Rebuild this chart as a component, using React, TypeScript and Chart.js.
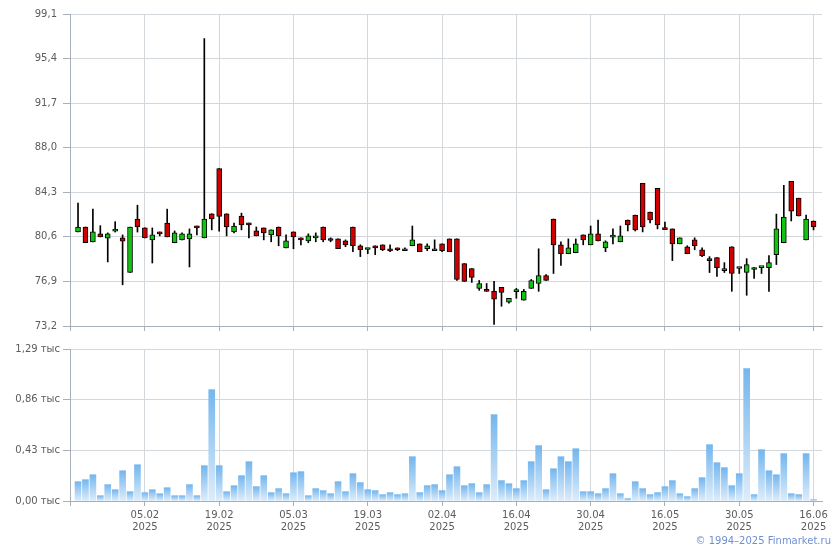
import React, { useEffect, useRef } from 'react';
import { Chart, registerables } from 'chart.js';

Chart.register(...registerables);

// ---- data (one entry per trading session) ----
const opens = [
  81.0, 81.42, 80.19, 80.85, 80.49, 81.08, 80.52, 77.64, 82.08, 81.34,
  80.35, 81.01, 81.75, 80.11, 80.35, 80.43, 81.5, 80.52, 82.52, 86.27,
  82.52, 81.01, 82.33, 81.75, 81.09, 81.34, 80.76, 81.42, 79.69, 81.01,
  80.52, 80.27, 80.52, 81.42, 80.41, 80.43, 80.27, 81.42, 79.86, 79.55,
  79.86, 79.94, 79.47, 79.69, 79.45, 79.86, 80.02, 79.61, 79.45, 80.02,
  80.43, 80.43, 78.38, 77.97, 76.32, 76.16, 76.08, 76.4, 75.17, 76.06,
  75.34, 76.32, 76.73, 77.39, 82.08, 79.94, 79.2, 79.28, 80.76, 79.94,
  80.85, 79.69, 80.58, 80.19, 82.0, 82.41, 85.04, 82.66, 84.63, 81.25,
  81.26, 80.02, 79.78, 80.35, 79.53, 78.7, 78.87, 77.8, 79.78, 77.97,
  77.64, 77.89, 78.05, 78.05, 79.12, 80.11, 85.2, 83.81, 80.35, 81.92,
];
const highs = [
  83.4, 81.42, 82.9, 81.53, 80.93, 81.86, 80.76, 81.42, 83.23, 81.34,
  81.34, 81.01, 82.9, 81.09, 80.93, 81.26, 81.5, 97.06, 82.52, 86.27,
  82.52, 81.75, 82.57, 81.75, 81.42, 81.34, 81.18, 81.42, 80.76, 81.01,
  80.52, 80.85, 80.93, 81.42, 80.52, 80.43, 80.35, 81.42, 79.94, 79.61,
  79.86, 79.94, 79.94, 79.69, 79.69, 81.5, 80.02, 80.02, 80.35, 80.02,
  80.43, 80.43, 78.38, 77.97, 76.98, 76.73, 76.9, 76.4, 75.5, 76.32,
  76.24, 77.06, 79.61, 77.47, 82.08, 80.19, 80.43, 80.43, 80.76, 81.5,
  82.0, 80.27, 81.26, 81.5, 82.0, 82.41, 85.04, 82.66, 84.63, 81.83,
  81.26, 80.52, 79.86, 80.52, 79.69, 78.96, 78.87, 78.46, 79.78, 78.0,
  78.79, 78.05, 78.07, 79.04, 82.49, 84.88, 85.2, 83.81, 82.41, 81.92,
];
const lows = [
  81.0, 80.11, 80.19, 80.6, 78.52, 81.0, 76.62, 77.64, 81.0, 80.52,
  78.43, 80.68, 80.6, 80.11, 80.35, 78.1, 80.76, 80.52, 81.18, 81.07,
  80.68, 80.93, 81.18, 80.52, 80.68, 80.35, 80.19, 79.86, 79.69, 79.61,
  79.94, 80.11, 80.19, 80.19, 80.19, 79.61, 79.78, 79.37, 78.96, 79.2,
  79.12, 79.45, 79.37, 79.45, 79.45, 79.86, 79.37, 79.45, 79.45, 79.37,
  79.37, 76.98, 76.9, 76.82, 76.16, 76.08, 73.34, 74.84, 75.1, 75.5,
  75.34, 76.32, 76.08, 76.98, 77.56, 78.22, 79.2, 79.28, 79.94, 79.94,
  80.27, 79.37, 80.02, 80.19, 81.09, 81.09, 81.01, 81.75, 81.26, 81.2,
  78.63, 80.02, 79.2, 79.53, 78.96, 77.64, 77.31, 77.64, 76.08, 77.56,
  75.75, 77.15, 77.56, 76.08, 78.3, 80.11, 81.92, 82.33, 80.35, 81.18,
];
const closes = [
  81.42, 80.11, 81.01, 80.6, 80.85, 81.12, 80.24, 81.42, 81.42, 80.52,
  80.76, 80.85, 80.6, 80.93, 80.85, 80.85, 81.34, 82.08, 82.08, 82.3,
  81.42, 81.5, 81.59, 81.59, 80.68, 80.93, 81.18, 80.68, 80.27, 80.6,
  80.35, 80.68, 80.68, 80.35, 80.3, 79.61, 79.94, 79.86, 79.53, 79.58,
  79.69, 79.53, 79.43, 79.53, 79.61, 80.35, 79.37, 79.86, 79.61, 79.45,
  79.37, 77.06, 76.9, 77.23, 76.73, 76.08, 75.42, 75.99, 75.5, 76.1,
  76.08, 76.98, 77.39, 76.98, 79.94, 79.2, 79.69, 80.02, 80.35, 80.85,
  80.27, 80.19, 80.62, 80.68, 81.59, 81.18, 81.42, 82.0, 81.59, 81.2,
  80.02, 80.52, 79.2, 79.86, 79.04, 78.63, 78.05, 77.97, 77.56, 78.0,
  78.3, 78.05, 78.07, 78.46, 81.26, 82.24, 82.74, 82.33, 82.08, 81.42,
];
// volume, thousands
const volumes = [
  0.164, 0.181, 0.223, 0.045, 0.139, 0.096, 0.257, 0.079, 0.308, 0.071,
  0.096, 0.062, 0.113, 0.045, 0.045, 0.139, 0.045, 0.300, 0.945, 0.300,
  0.079, 0.130, 0.215, 0.334, 0.122, 0.215, 0.071, 0.105, 0.062, 0.240,
  0.249, 0.045, 0.105, 0.088, 0.062, 0.164, 0.079, 0.232, 0.156, 0.096,
  0.088, 0.054, 0.071, 0.054, 0.062, 0.376, 0.071, 0.130, 0.139, 0.088,
  0.223, 0.291, 0.130, 0.147, 0.071, 0.139, 0.733, 0.173, 0.147, 0.105,
  0.173, 0.334, 0.470, 0.096, 0.274, 0.376, 0.334, 0.444, 0.079, 0.079,
  0.062, 0.105, 0.232, 0.062, 0.020, 0.164, 0.105, 0.054, 0.071, 0.122,
  0.173, 0.062, 0.037, 0.105, 0.198, 0.478, 0.325, 0.283, 0.130, 0.232,
  1.123, 0.054, 0.436, 0.257, 0.223, 0.402, 0.062, 0.054, 0.402, 0.011,
];

const xTickIdx = [9, 19, 29, 39, 49, 59, 69, 79, 89, 99];
const xTickDates = ['05.02', '19.02', '05.03', '19.03', '02.04', '16.04', '30.04', '16.05', '30.05', '16.06'];
const xTickYears = ['2025', '2025', '2025', '2025', '2025', '2025', '2025', '2025', '2025', '2025'];
const priceTicks = [73.2, 76.9, 80.6, 84.3, 88.0, 91.7, 95.4, 99.1];
const volumeTicks = [0, 0.43, 0.86, 1.29];

// ---- styling ----
const FONT = { family: '"DejaVu Sans", Verdana, sans-serif', size: 10 };
const GRID = '#d3d8dd';
const AXIS = '#a9afb9';
const TEXT = '#5c5c5c';
const GREEN = '#12c412';
const RED = '#d00000';
const X_MIN = -1.08;
const X_MAX = 100.14;

const fmtPrice = (v: number) => v.toFixed(1).replace('.', ',');
const fmtVol = (v: number) => v.toFixed(2).replace('.', ',') + ' тыс';

function xAxis(showLabels: boolean, height: number): any {
  return {
    type: 'linear',
    min: X_MIN,
    max: X_MAX,
    offset: false,
    grid: {
      offset: false,
      color: (c: any) => (c.tick && c.tick.value === X_MIN ? 'rgba(0,0,0,0)' : GRID),
      tickColor: AXIS,
      tickLength: 5,
    },
    border: { color: AXIS },
    ticks: {
      display: showLabels,
      autoSkip: false,
      maxRotation: 0,
      padding: 3,
      color: TEXT,
      font: FONT,
      callback: (v: number) => {
        const k = xTickIdx.indexOf(v);
        return k < 0 ? '' : [xTickDates[k], xTickYears[k]];
      },
    },
    afterBuildTicks: (s: any) => {
      s.ticks = [{ value: X_MIN }, ...xTickIdx.map((v) => ({ value: v }))];
    },
    afterFit: (s: any) => {
      s.height = height;
    },
  };
}

function yAxis(min: number, max: number, ticks: number[], fmt: (v: number) => string, pad: number): any {
  return {
    type: 'linear',
    position: 'left',
    min,
    max,
    grid: { color: GRID, tickColor: AXIS, tickLength: 7 },
    border: { color: AXIS },
    ticks: { color: TEXT, font: FONT, padding: pad, callback: (v: number) => fmt(v) },
    afterBuildTicks: (s: any) => {
      s.ticks = ticks.map((v) => ({ value: v }));
    },
    afterFit: (s: any) => {
      s.width = 70;
    },
  };
}

export default function App() {
  const priceRef = useRef<HTMLCanvasElement>(null);
  const volRef = useRef<HTMLCanvasElement>(null);

  useEffect(() => {
    const priceChart = new Chart(priceRef.current as HTMLCanvasElement, {
      type: 'bar',
      data: {
        datasets: [
          {
            label: 'body',
            data: opens.map((o, i) => ({ x: i, y: [o, closes[i]] })) as any,
            backgroundColor: opens.map((o, i) => (closes[i] >= o ? GREEN : RED)),
            borderColor: '#000',
            borderWidth: 1,
            borderSkipped: false,
            barThickness: 5,
            minBarLength: 2,
            grouped: false,
            order: 0,
          } as any,
          {
            label: 'wick',
            data: lows.map((l, i) => ({ x: i, y: [l, highs[i]] })) as any,
            backgroundColor: '#000',
            borderWidth: 0,
            barThickness: 1,
            grouped: false,
            order: 1,
          } as any,
        ],
      },
      options: {
        animation: false,
        responsive: false,
        devicePixelRatio: 1,
        layout: { padding: { top: 14, right: 18, bottom: 0, left: 0 } },
        plugins: { legend: { display: false }, tooltip: { enabled: false } },
        scales: {
          x: xAxis(false, 14),
          y: yAxis(priceTicks[0], priceTicks[priceTicks.length - 1], priceTicks, fmtPrice, 6),
        },
      } as any,
    });

    const volChart = new Chart(volRef.current as HTMLCanvasElement, {
      type: 'bar',
      data: {
        datasets: [
          {
            label: 'volume',
            data: volumes.map((v, i) => ({ x: i, y: v })) as any,
            backgroundColor: (ctx: any) => {
              const chart = ctx.chart;
              const ys = chart.scales && chart.scales.y;
              if (!chart.chartArea || !ys || typeof ctx.raw !== 'object') return '#8cc4f0';
              const top = ys.getPixelForValue(ctx.raw.y);
              const bottom = ys.getPixelForValue(0);
              if (!isFinite(top) || !isFinite(bottom) || bottom - top < 0.5) return '#b8d9f6';
              const g = chart.ctx.createLinearGradient(0, top, 0, bottom);
              g.addColorStop(0, '#74b6ee');
              g.addColorStop(1, '#deedfa');
              return g;
            },
            borderWidth: 0,
            barThickness: 6,
            grouped: false,
          } as any,
        ],
      },
      options: {
        animation: false,
        responsive: false,
        devicePixelRatio: 1,
        layout: { padding: { top: 9, right: 18, bottom: 0, left: 0 } },
        plugins: { legend: { display: false }, tooltip: { enabled: false } },
        scales: {
          x: xAxis(true, 49),
          y: yAxis(volumeTicks[0], volumeTicks[volumeTicks.length - 1], volumeTicks, fmtVol, 3),
        },
      } as any,
    });

    return () => {
      priceChart.destroy();
      volChart.destroy();
    };
  }, []);

  return (
    <div style={{ position: 'absolute', left: 0, top: 0, width: 840, height: 550, background: '#fff' }}>
      <canvas ref={priceRef} width={840} height={340} style={{ position: 'absolute', left: 0, top: 0 }} />
      <canvas ref={volRef} width={840} height={210} style={{ position: 'absolute', left: 0, top: 340 }} />
      <div
        style={{
          position: 'absolute',
          right: 9,
          top: 535,
          font: '10px "DejaVu Sans", Verdana, sans-serif',
          color: '#6f8fd4',
          whiteSpace: 'nowrap',
        }}
      >
        © 1994–2025 Finmarket.ru
      </div>
    </div>
  );
}
